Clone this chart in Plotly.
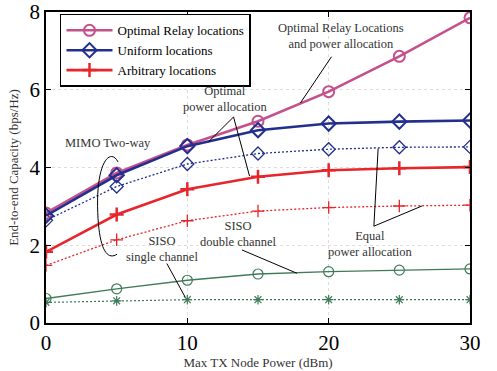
import plotly.graph_objects as go

power_dbm = [0, 5, 10, 15, 20, 25, 30]

optimal_relay = [2.83, 3.86, 4.58, 5.19, 5.95, 6.86, 7.85]
uniform_opt = [2.76, 3.80, 4.55, 4.96, 5.13, 5.18, 5.21]
uniform_eq = [2.64, 3.51, 4.09, 4.36, 4.47, 4.52, 4.53]
arbitrary_opt = [1.83, 2.79, 3.44, 3.76, 3.93, 3.98, 4.01]
arbitrary_eq = [1.48, 2.14, 2.63, 2.88, 2.97, 3.01, 3.03]
siso_double = [0.63, 0.88, 1.10, 1.26, 1.32, 1.36, 1.39]
siso_single = [0.53, 0.57, 0.60, 0.60, 0.60, 0.60, 0.60]

x_ticks = [0, 10, 20, 30]
y_ticks = [0, 2, 4, 6, 8]

PINK = "#C4508C"
BLUE = "#232F8E"
RED = "#E8252B"
GREEN = "#3F7B57"
FONT = "Liberation Serif"

fig = go.Figure()

def add(y, color, width, dash, symbol, size, name=None, show=False, mlw=1.5):
    fig.add_trace(go.Scatter(
        x=power_dbm, y=y, mode="lines+markers", name=name, showlegend=show,
        line=dict(color=color, width=width, dash=dash),
        marker=dict(symbol=symbol, size=size, color=color,
                    line=dict(color=color, width=mlw)),
    ))

DOT = "2px,2px"
add(siso_single, GREEN, 1.2, DOT, "asterisk-open", 8, mlw=1.2)
add(siso_double, GREEN, 1.3, "solid", "circle-open", 10, mlw=1.2)
add(arbitrary_eq, RED, 1.3, DOT, "cross-thin-open", 9, mlw=1.3)
add(uniform_eq, BLUE, 1.3, DOT, "diamond-open", 10, mlw=1.3)
add(optimal_relay, PINK, 2.6, "solid", "circle-open", 11, "Optimal Relay locations", True, 2)
add(uniform_opt, BLUE, 2.6, "solid", "diamond-open", 11, "Uniform locations", True, 2)
add(arbitrary_opt, RED, 2.6, "solid", "cross-thin-open", 10, "Arbitrary locations", True, 2.5)

ann_font = dict(family=FONT, size=12.5, color="#333333")
annotations = [
    dict(x=20.9, y=7.38, text="Optimal Relay Locations<br>and power allocation"),
    dict(x=12.7, y=5.77, text="Optimal<br>power allocation"),
    dict(x=4.4, y=4.62, text="MIMO Two-way"),
    dict(x=8.2, y=1.9, text="SISO<br>single channel"),
    dict(x=13.6, y=2.3, text="SISO<br>double channel"),
    dict(x=22.9, y=2.02, text="Equal<br>power allocation"),
]
for a in annotations:
    a.update(xref="x", yref="y", showarrow=False, font=ann_font)

line_style = dict(color="black", width=1)
segments = [
    (20.2, 6.85, 18.0, 5.66),
    (13.27, 5.30, 11.5, 4.66),
    (13.27, 5.30, 14.4, 3.78),
    (8.55, 1.53, 9.84, 0.67),
    (13.86, 1.88, 17.75, 1.28),
    (23.2, 2.49, 23.5, 4.49),
    (23.2, 2.49, 26.6, 3.01),
]
shapes = [dict(type="line", xref="x", yref="y", x0=a, y0=b, x1=c, y1=d, line=line_style)
          for a, b, c, d in segments]
shapes.append(dict(type="path", xref="x", yref="y", line=line_style,
                   path="M 5.1,4.14 C 4.6,4.5 3.6,4.2 3.65,3.0 C 3.7,1.9 4.3,1.6 5.03,1.77"))

axis_common = dict(
    showline=True, linecolor="black", linewidth=1.5, mirror="ticks",
    ticks="inside", ticklen=5, tickcolor="black", tickwidth=1,
    showgrid=True, gridcolor="#DDDDDD", griddash="dot", gridwidth=1,
    zeroline=False, automargin=False,
    tickfont=dict(family=FONT, size=21, color="black"),
)

fig.update_layout(
    width=497, height=371,
    margin=dict(l=46, r=27, t=12, b=48),
    paper_bgcolor="white", plot_bgcolor="white",
    xaxis=dict(range=[0, 30], tickvals=x_ticks, **axis_common,
               title=dict(text="Max TX Node Power (dBm)", standoff=0,
                          font=dict(family=FONT, size=13, color="#333333"))),
    yaxis=dict(range=[0, 8], tickvals=y_ticks, **axis_common,
               title=dict(text="End-to-end Capacity (bps/Hz)", standoff=8,
                          font=dict(family=FONT, size=13, color="#333333"))),
    legend=dict(x=0.033, y=0.994, xanchor="left", yanchor="top",
                bgcolor="white", bordercolor="black", borderwidth=1.5,
                font=dict(family=FONT, size=13, color="black"),
                tracegroupgap=0, itemwidth=46),
    annotations=annotations,
    shapes=shapes,
)

fig.write_html("out.html", post_script="document.body.style.margin='0';",
               config={"displayModeBar": False})
